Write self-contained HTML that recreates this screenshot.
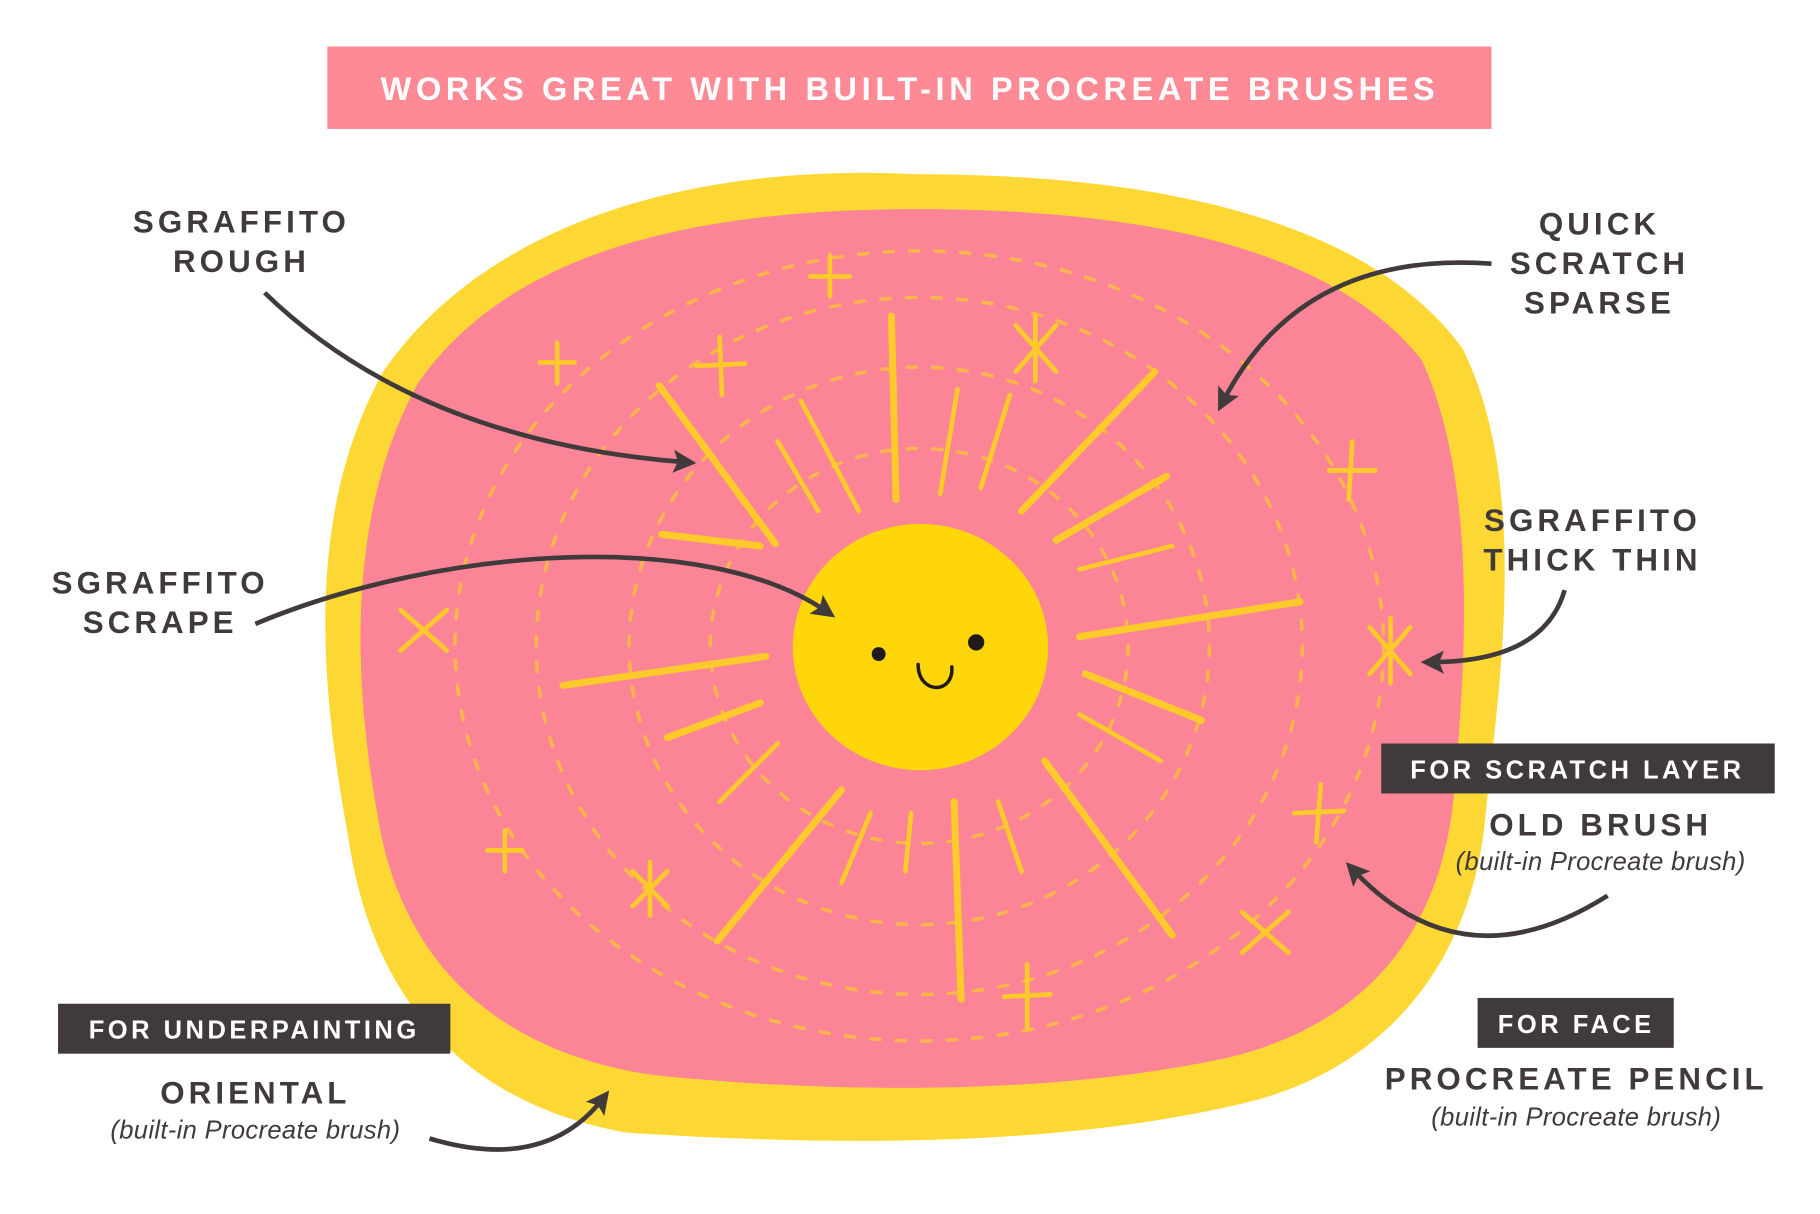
<!DOCTYPE html>
<html><head><meta charset="utf-8"><style>
html,body{margin:0;padding:0;background:#fff;width:1820px;height:1214px;overflow:hidden}
svg{display:block}
text{font-family:"Liberation Sans",sans-serif;font-weight:bold;fill:#403a3a;letter-spacing:3.5px}
.it{font-style:italic;font-weight:normal;letter-spacing:0.3px;font-size:22px}
</style></head><body>
<svg width="1820" height="1214" viewBox="0 0 1568 1045" preserveAspectRatio="none" xmlns="http://www.w3.org/2000/svg">
<defs>
<marker id="a" viewBox="0 0 10 10" refX="6" refY="5" markerWidth="5" markerHeight="5" orient="auto"><path d="M0,0 L10,5 L0,10 L2,5z" fill="#403a3a"/></marker>
</defs>
<rect x="282" y="40" width="1003" height="71" fill="#fd8a95"/>
<text x="784" y="86" text-anchor="middle" font-size="28" style="fill:#fff;letter-spacing:4px">WORKS GREAT WITH BUILT-IN PROCREATE BRUSHES</text>
<!-- blob -->
<path d="M330,320 C420,190 600,140 790,150 C1000,150 1180,190 1260,300 C1320,420 1290,600 1280,700 C1270,820 1200,920 1070,950 C900,990 700,985 540,975 C400,950 320,860 300,720 C270,560 270,430 330,320Z" fill="#fdd835"/>
<path d="M360,330 C440,215 600,180 790,180 C990,180 1150,215 1225,310 C1275,420 1262,580 1252,690 C1240,800 1180,880 1060,910 C900,945 700,940 560,925 C430,905 345,830 325,700 C300,560 305,430 360,330Z" fill="#fb8597"/>
<g stroke="#fccb2a" stroke-linecap="round" fill="none">
<g stroke-width="6">
<line x1="568" y1="332" x2="668" y2="468"/><line x1="768" y1="272" x2="772" y2="430"/>
<line x1="995" y1="320" x2="880" y2="440"/><line x1="1005" y1="410" x2="910" y2="465"/>
<line x1="1120" y1="518" x2="930" y2="548"/><line x1="935" y1="580" x2="1035" y2="620"/>
<line x1="900" y1="655" x2="1010" y2="805"/><line x1="822" y1="690" x2="828" y2="860"/>
<line x1="725" y1="680" x2="618" y2="810"/><line x1="660" y1="565" x2="485" y2="590"/>
<line x1="655" y1="605" x2="575" y2="635"/><line x1="655" y1="470" x2="570" y2="460"/>
</g>
<g stroke-width="4">
<line x1="690" y1="345" x2="740" y2="440"/><line x1="670" y1="380" x2="705" y2="440"/>
<line x1="825" y1="335" x2="810" y2="425"/><line x1="870" y1="340" x2="845" y2="420"/>
<line x1="930" y1="490" x2="1010" y2="470"/><line x1="930" y1="615" x2="1000" y2="655"/>
<line x1="785" y1="700" x2="780" y2="750"/><line x1="860" y1="690" x2="880" y2="750"/>
<line x1="750" y1="700" x2="725" y2="760"/><line x1="670" y1="640" x2="620" y2="690"/>
<line x1="715" y1="220" x2="715" y2="255"/><line x1="698" y1="238" x2="732" y2="238"/>
<line x1="620" y1="290" x2="622" y2="340"/><line x1="600" y1="315" x2="642" y2="313"/>
<line x1="1165" y1="380" x2="1162" y2="430"/><line x1="1145" y1="405" x2="1185" y2="405"/>
<line x1="1138" y1="675" x2="1134" y2="725"/><line x1="1115" y1="700" x2="1158" y2="698"/>
<line x1="885" y1="830" x2="885" y2="885"/><line x1="865" y1="858" x2="905" y2="856"/>
<line x1="435" y1="715" x2="435" y2="750"/><line x1="420" y1="732" x2="450" y2="732"/>
<line x1="480" y1="295" x2="480" y2="330"/><line x1="465" y1="312" x2="495" y2="312"/>
<line x1="875" y1="280" x2="910" y2="320"/><line x1="910" y1="280" x2="875" y2="320"/><line x1="892" y1="272" x2="892" y2="328"/>
<line x1="1180" y1="540" x2="1215" y2="580"/><line x1="1215" y1="540" x2="1180" y2="580"/><line x1="1198" y1="532" x2="1198" y2="588"/>
<line x1="345" y1="525" x2="385" y2="560"/><line x1="385" y1="525" x2="345" y2="560"/>
<line x1="1070" y1="785" x2="1110" y2="820"/><line x1="1110" y1="785" x2="1070" y2="820"/>
<line x1="545" y1="750" x2="575" y2="780"/><line x1="575" y1="750" x2="545" y2="780"/><line x1="560" y1="742" x2="560" y2="788"/>
</g>
<g stroke-width="3" stroke-dasharray="8 14" opacity="0.7">
<ellipse cx="792" cy="556" rx="180" ry="170"/>
<ellipse cx="792" cy="556" rx="250" ry="240"/>
<ellipse cx="792" cy="556" rx="330" ry="300"/>
<ellipse cx="792" cy="556" rx="400" ry="340"/>
</g>
</g>
<!-- sun -->
<ellipse cx="793" cy="557" rx="110" ry="106" fill="#ffd60a"/>
<circle cx="757" cy="563" r="6" fill="#1e1a1a"/>
<circle cx="841" cy="553" r="7" fill="#1e1a1a"/>
<path d="M791,572 C791,598 822,598 820,574" stroke="#1e1a1a" stroke-width="3" fill="none" stroke-linecap="round"/>
<!-- arrows -->
<g stroke="#403a3a" stroke-width="4" fill="none" marker-end="url(#a)">
<path d="M228,252 Q360,380 592,398"/>
<path d="M220,537 C380,470 610,455 713,527"/>
<path d="M1285,227 Q1120,215 1053,347"/>
<path d="M1348,508 Q1330,570 1232,570"/>
<path d="M1385,771 Q1260,850 1165,748"/>
<path d="M370,980 Q470,1010 520,945"/>
</g>
<!-- labels -->
<g font-size="27" text-anchor="middle">
<text x="208" y="200">SGRAFFITO</text><text x="208" y="234">ROUGH</text>
<text x="138" y="511">SGRAFFITO</text><text x="138" y="545">SCRAPE</text>
<text x="1378" y="202">QUICK</text><text x="1378" y="236">SCRATCH</text><text x="1378" y="270">SPARSE</text>
<text x="1372" y="457">SGRAFFITO</text><text x="1372" y="491">THICK THIN</text>
<text x="1379" y="719">OLD BRUSH</text>
<text x="220" y="950">ORIENTAL</text>
<text x="1358" y="938">PROCREATE PENCIL</text>
</g>
<rect x="1190" y="640" width="339" height="43" fill="#403a3a"/>
<text x="1359" y="670" text-anchor="middle" font-size="22" style="fill:#fff;letter-spacing:3px">FOR SCRATCH LAYER</text>
<rect x="1273" y="859" width="169" height="43" fill="#403a3a"/>
<text x="1358" y="889" text-anchor="middle" font-size="22" style="fill:#fff;letter-spacing:3px">FOR FACE</text>
<rect x="50" y="864" width="338" height="43" fill="#403a3a"/>
<text x="219" y="894" text-anchor="middle" font-size="22" style="fill:#fff;letter-spacing:3px">FOR UNDERPAINTING</text>
<text class="it" x="1379" y="749" text-anchor="middle">(built-in Procreate brush)</text>
<text class="it" x="220" y="980" text-anchor="middle">(built-in Procreate brush)</text>
<text class="it" x="1358" y="969" text-anchor="middle">(built-in Procreate brush)</text>
</svg>
</body></html>
